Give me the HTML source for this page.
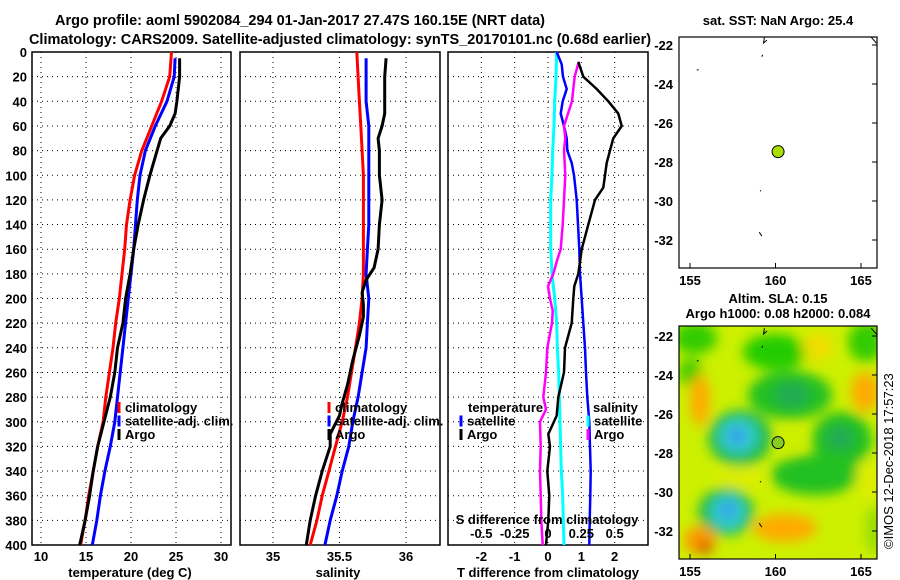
<!DOCTYPE html>
<html><head><meta charset="utf-8">
<style>
html,body{margin:0;padding:0;background:#fff;}
svg{display:block;font-family:"Liberation Sans",Arial,sans-serif;font-weight:bold;}
</style></head>
<body>
<svg id="chart" width="900" height="580" viewBox="0 0 900 580">
<text x="300" y="25" font-size="14.5" text-anchor="middle">Argo profile: aoml 5902084_294 01-Jan-2017 27.47S 160.15E (NRT data)</text>
<text x="340" y="44" font-size="14.5" text-anchor="middle">Climatology: CARS2009. Satellite-adjusted climatology: synTS_20170101.nc (0.68d earlier)</text>
<g id="g"></g>
</svg>
<script>
// ---- data ----
const depthTicks = [0,20,40,60,80,100,120,140,160,180,200,220,240,260,280,300,320,340,360,380,400];
const tempTicks = [10,15,20,25,30];
const salTicks = [35,35.5,36];
const salTickLabels = ["35","35.5","36"];
const tdiffTicks = [-2,-1,0,1,2];
const sdiffTicks = [-0.5,-0.25,0,0.25,0.5];
const sdiffTickLabels = ["-0.5","-0.25","0","0.25","0.5"];

const climDepth = [0,20,40,60,80,100,120,140,160,180,200,220,240,260,280,300,320,340,360,380,400];
const tempClim = [24.5,24.3,23.4,22.3,21.2,20.4,19.9,19.5,19.3,19.0,18.7,18.3,18.0,17.6,17.2,16.9,16.3,15.8,15.3,14.9,14.4];
const satDepth = [5,20,40,60,80,100,120,140,160,180,200,220,240,260,280,300,320,340,360,380,400];
const tempSat = [24.9,24.8,24.0,22.7,21.6,21.0,20.7,20.5,20.3,20.0,19.7,19.4,19.1,18.8,18.5,18.2,17.7,17.1,16.6,16.2,15.7];
const argoDepth = [5,20,40,50,60,70,80,100,120,140,160,180,200,220,240,260,280,300,320,340,360,380,400];
const tempArgo = [25.4,25.4,25.1,24.9,24.3,23.3,22.9,22.1,21.4,20.8,20.3,19.9,19.4,19.1,18.5,18.2,17.7,17.0,16.3,15.8,15.4,14.9,14.3];

const salClim = [35.63,35.64,35.65,35.66,35.67,35.68,35.68,35.68,35.68,35.68,35.67,35.65,35.62,35.59,35.56,35.52,35.47,35.42,35.37,35.33,35.28];
const salSat = [35.70,35.70,35.70,35.72,35.72,35.72,35.72,35.72,35.71,35.70,35.72,35.71,35.70,35.67,35.64,35.60,35.57,35.52,35.48,35.43,35.39];
const salArgoDepth = [5,20,40,50,60,70,80,100,120,140,160,175,185,195,205,215,230,250,270,285,295,310,320,340,360,380,400];
const salArgo = [35.85,35.84,35.84,35.84,35.82,35.79,35.80,35.80,35.82,35.80,35.79,35.76,35.70,35.67,35.68,35.68,35.65,35.60,35.56,35.52,35.50,35.43,35.43,35.37,35.32,35.28,35.25];

const tDiffSatDepth = [0,10,20,30,40,50,60,70,80,90,100,120,140,160,180,200,220,240,260,280,300,320,340,360,380,400];
const tDiffSat = [0.26,0.41,0.45,0.56,0.44,0.38,0.48,0.56,0.58,0.71,0.78,0.86,0.9,0.94,0.96,1.01,1.06,1.11,1.14,1.18,1.24,1.26,1.28,1.27,1.25,1.24];
const tDiffArgoDepth = [8,20,30,40,50,60,70,80,90,100,110,120,140,160,180,190,200,220,240,260,280,295,310,320,340,360,380,400];
const tDiffArgo = [0.91,1.06,1.46,1.81,2.11,2.21,1.96,1.86,1.76,1.71,1.66,1.41,1.21,1.01,0.91,0.79,0.76,0.71,0.51,0.48,0.31,0.26,0.01,0.06,-0.02,0.04,0.01,-0.06];
const sDiffSatDepth = [0,20,40,60,80,100,120,140,160,180,200,220,240,260,280,300,320,340,360,380,400];
const sDiffSat = [0.065,0.06,0.05,0.045,0.035,0.03,0.02,0.02,0.02,0.03,0.05,0.065,0.07,0.08,0.085,0.09,0.095,0.1,0.11,0.115,0.12];
const sDiffArgoDepth = [8,20,30,40,50,60,70,80,100,120,140,160,170,180,190,200,210,220,240,260,280,290,300,320,340,360,380,400];
const sDiffArgo = [0.23,0.2,0.19,0.18,0.15,0.12,0.13,0.12,0.13,0.12,0.11,0.095,0.065,0.04,0,0.015,0.035,0.03,-0.005,-0.015,-0.035,-0.015,-0.06,-0.055,-0.06,-0.055,-0.05,-0.04];

const lonTicks = [155,160,165];
const latTicks = [-22,-24,-26,-28,-30,-32];
const argoLon = [160.15];
const argoLat = [-27.47];

// ---- helpers ----
const NS = "http://www.w3.org/2000/svg";
const G = document.getElementById('g');
function mk(tag, attrs, parent){
  const e = document.createElementNS(NS, tag);
  for (const k in attrs) e.setAttribute(k, attrs[k]);
  (parent||G).appendChild(e);
  return e;
}
function lin(d0,d1,r0,r1){ return v => r0 + (v-d0)*(r1-r0)/(d1-d0); }

const PT = 52, PB = 545;
const yD = lin(0,400,PT,PB);

function frame(x0,x1,name){
  const r = mk('rect',{x:x0,y:PT,width:x1-x0,height:PB-PT,fill:'#fff',stroke:'#000','stroke-width':1.5});
  
  
  depthTicks.forEach(d=>{
    if(d===0||d===400) return;
    const l = mk('line',{x1:x0,x2:x1,y1:yD(d),y2:yD(d),stroke:'#000','stroke-width':1,'stroke-dasharray':'1,4'});
    
    
  });
}
function vgrid(xs,x,name){
  xs.forEach(v=>{
    const l = mk('line',{x1:x(v),x2:x(v),y1:PT,y2:PB,stroke:'#000','stroke-width':1,'stroke-dasharray':'1,4'});
    
    
  });
}
function line(xs,ds,x,color,w,name){
  const pts = xs.map((v,i)=>x(v).toFixed(1)+','+yD(ds[i]).toFixed(1)).join(' ');
  const p = mk('polyline',{points:pts,fill:'none',stroke:color,'stroke-width':w,'stroke-linejoin':'round'});
  
  
}
function txt(s,x,y,opts,name){
  const t = mk('text',Object.assign({x:x,y:y,'font-size':13},opts||{}));
  t.textContent = s;
  
  
  return t;
}
function legend(items,mx,ty,name){
  items.forEach((it,i)=>{
    const y = ty + i*13.5;
    const m = mk('line',{x1:mx,x2:mx,y1:y-10,y2:y+1,stroke:it[1],'stroke-width':3});
    
    
    txt(it[0],mx+6,y,{'font-size':13},name+'-label');
  });
}

// ---- panel 1: temperature ----
const xT = lin(10,30,41,221);
frame(32,231,'temperature-panel');
vgrid(tempTicks,xT,'temperature');
line(tempClim,climDepth,xT,'#f00',3,'temperature-climatology-line');
line(tempSat,satDepth,xT,'#00f',3,'temperature-satellite-line');
line(tempArgo,argoDepth,xT,'#000',3,'temperature-argo-line');
depthTicks.forEach(d=>txt(String(d),27,yD(d)+5,{'text-anchor':'end'},'depth-tick-label'));
tempTicks.forEach(v=>txt(String(v),xT(v),561,{'text-anchor':'middle'},'temperature-tick-label'));
txt('temperature (deg C)',130,577,{'text-anchor':'middle'},'temperature-axis-title');
legend([['climatology','#f00'],['satellite-adj. clim.','#00f'],['Argo','#000']],119,412,'temperature-legend');

// ---- panel 2: salinity ----
const xS = lin(35,36,273,406);
frame(240,440,'salinity-panel');
vgrid(salTicks,xS,'salinity');
line(salClim,climDepth,xS,'#f00',3,'salinity-climatology-line');
line(salSat,satDepth,xS,'#00f',3,'salinity-satellite-line');
line(salArgo,salArgoDepth,xS,'#000',3,'salinity-argo-line');
salTicks.forEach((v,i)=>txt(salTickLabels[i],xS(v),561,{'text-anchor':'middle'},'salinity-tick-label'));
txt('salinity',338,577,{'text-anchor':'middle'},'salinity-axis-title');
legend([['climatology','#f00'],['satellite-adj. clim.','#00f'],['Argo','#000']],329,412,'salinity-legend');

// ---- panel 3: differences ----
const xTD = lin(-3,3,448,648);
const xSD = lin(-0.75,0.75,448,648);
frame(448,648,'difference-panel');
vgrid(tdiffTicks,xTD,'tdiff');
line(sDiffSat,sDiffSatDepth,xSD,'#0ff',3,'salinity-diff-satellite-line');
line(tDiffSat,tDiffSatDepth,xTD,'#00f',2.5,'temperature-diff-satellite-line');
line(sDiffArgo,sDiffArgoDepth,xSD,'#f0f',2.5,'salinity-diff-argo-line');
line(tDiffArgo,tDiffArgoDepth,xTD,'#000',2.5,'temperature-diff-argo-line');
tdiffTicks.forEach(v=>txt(String(v),xTD(v),561,{'text-anchor':'middle'},'tdiff-tick-label'));
txt('T difference from climatology',548,577,{'text-anchor':'middle'},'tdiff-axis-title');
txt('S difference from climatology',547,524,{'text-anchor':'middle'},'sdiff-axis-title');
sdiffTicks.forEach((v,i)=>txt(sdiffTickLabels[i],xSD(v),538,{'text-anchor':'middle'},'sdiff-tick-label'));
txt('temperature',468,412,{},'diff-legend-temperature-heading');
legend([['satellite','#00f'],['Argo','#000']],461,425.5,'diff-legend-temperature');
txt('salinity',593,412,{},'diff-legend-salinity-heading');
legend([['satellite','#0ff'],['Argo','#f0f']],588,425.5,'diff-legend-salinity');

// ---- maps ----
const xLon = lin(155,165,690,861);
function mapAxes(top,bottom,y22,y32,name){
  const yLat = lin(-22,-32,y22,y32);
  latTicks.forEach(v=>{
    txt(String(v),673,yLat(v)+5,{'text-anchor':'end'},name+'-lat-label');
    const t = mk('line',{x1:872,x2:877,y1:yLat(v),y2:yLat(v),stroke:'#000'});
    
    
  });
  lonTicks.forEach(v=>{
    txt(String(v),xLon(v),bottom+17,{'text-anchor':'middle'},name+'-lon-label');
    const t = mk('line',{x1:xLon(v),x2:xLon(v),y1:bottom-5,y2:bottom,stroke:'#000'});
    
    
  });
  return yLat;
}
// map 1
const m1 = mk('rect',{x:679,y:37,width:198,height:231,fill:'#fff',stroke:'#000','stroke-width':1.2});


const yLat1 = mapAxes(37,268,45,240,'sst-map');
txt('sat. SST: NaN Argo: 25.4',778,25,{'text-anchor':'middle'},'sst-map-title');
function coast(yLat,name){
  [[[159.35,-21.6],[159.3,-21.9],[159.5,-21.75]],[[159.2,-22.6],[159.25,-22.5]],[[155.4,-23.3],[155.5,-23.25]],[[159.1,-29.5],[159.15,-29.45]],[[159.05,-31.6],[159.2,-31.8]],[[165.6,-21.6],[165.9,-21.9]]].forEach(seg=>{
    const p = mk('polyline',{points:seg.map(q=>xLon(q[0])+','+yLat(q[1])).join(' '),fill:'none',stroke:'#000','stroke-width':1});
    
    
  });
}
coast(yLat1,'sst-map-coastline');
argoLon.forEach((lo,i)=>{
  const c = mk('circle',{cx:xLon(lo),cy:yLat1(argoLat[i]),r:6,fill:'#aadd00',stroke:'#000','stroke-width':1});
  
  
});

// map 2 (SLA)
txt('Altim. SLA: 0.15',778,303,{'text-anchor':'middle'},'sla-map-title-1');
txt('Argo h1000: 0.08 h2000: 0.084',778,318,{'text-anchor':'middle'},'sla-map-title-2');
const defs = mk('defs',{});
const cp = mk('clipPath',{id:'mclip'},defs);
mk('rect',{x:679,y:326,width:198,height:233},cp);
const fl = mk('filter',{id:'blur',x:'-50%',y:'-50%',width:'200%',height:'200%'},defs);
mk('feGaussianBlur',{stdDeviation:6},fl);
const mg = mk('g',{'clip-path':'url(#mclip)'});


mk('rect',{x:679,y:326,width:198,height:233,fill:'#ccf000'},mg);
const bg = mk('g',{filter:'url(#blur)'},mg);
const blobs = [
 [695,338,22,16,'#33cc00'],[775,352,32,18,'#22cc00'],[866,342,18,20,'#33cc00'],
 [690,372,12,14,'#44cc00'],[790,395,42,24,'#22c022'],[792,395,18,12,'#22aa55'],
 [700,400,10,26,'#ffaa00'],[865,392,14,20,'#ffaa00'],[818,347,16,14,'#eedd00'],
 [740,438,32,28,'#22bb44'],[738,436,20,18,'#33cccc'],[737,436,8,9,'#3399ee'],
 [842,440,30,28,'#22c022'],[840,438,14,12,'#22aa55'],[790,440,12,10,'#ccee00'],
 [815,475,44,20,'#22c022'],[740,478,26,10,'#ddee00'],[870,480,14,20,'#ddee00'],
 [726,512,28,24,'#22bb44'],[728,512,18,18,'#33cccc'],[728,510,8,8,'#3399ee'],
 [785,528,32,14,'#ffaa00'],[700,540,16,14,'#ff9900'],[705,548,8,6,'#cc5500'],[875,530,10,24,'#99dd00'],[830,548,18,10,'#ccee00']
];
blobs.forEach(b=>{
  const e = mk('ellipse',{cx:b[0],cy:b[1],rx:b[2],ry:b[3],fill:b[4]},bg);
  
  
});
const m2 = mk('rect',{x:679,y:326,width:198,height:233,fill:'none',stroke:'#000','stroke-width':1.2});


const yLat2 = mapAxes(326,559,336,531,'sla-map');
coast(yLat2,'sla-map-coastline');
argoLon.forEach((lo,i)=>{
  const c = mk('circle',{cx:xLon(lo),cy:yLat2(argoLat[i]),r:6,fill:'#88cc22',stroke:'#000','stroke-width':1});
  
  
});
txt('©IMOS 12-Dec-2018 17:57:23',0,0,{'font-size':13,'font-weight':'normal','transform':'translate(893,549) rotate(-90)'},'copyright-stamp');
</script>
</body></html>
